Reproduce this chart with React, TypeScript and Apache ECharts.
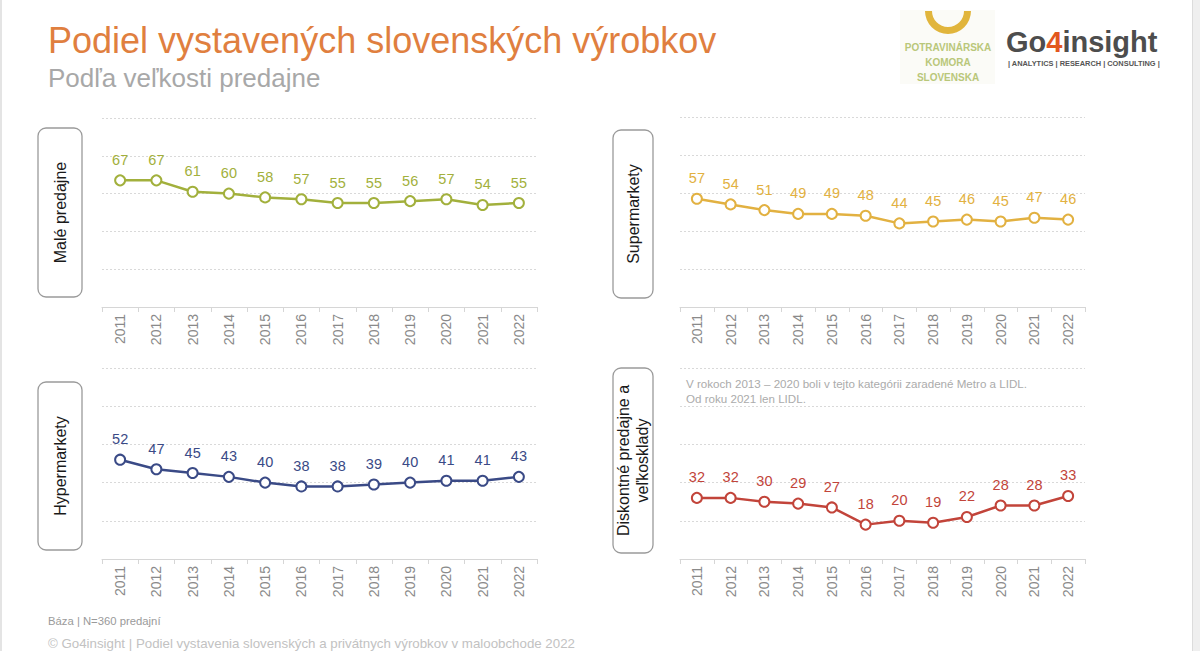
import React, { useEffect, useRef } from "react";
import * as echarts from "echarts";

// Years shown on every panel's category axis
const years = ["2011", "2012", "2013", "2014", "2015", "2016", "2017", "2018", "2019", "2020", "2021", "2022"];

// Share of Slovak products (%) by store size
const malePredajne = [67, 67, 61, 60, 58, 57, 55, 55, 56, 57, 54, 55];
const supermarkety = [57, 54, 51, 49, 49, 48, 44, 45, 46, 45, 47, 46];
const hypermarkety = [52, 47, 45, 43, 40, 38, 38, 39, 40, 41, 41, 43];
const diskontne = [32, 32, 30, 29, 27, 18, 20, 19, 22, 28, 28, 33];

const FONT = "'Liberation Sans', Arial, sans-serif";

type Panel = {
  name: string;
  data: number[];
  color: string;
  grid: { left: number; top: number; width: number; height: number };
  box: { x: number; y: number; w: number; h: number };
  label: string;
};

const panels: Panel[] = [
  {
    name: "Malé predajne",
    data: malePredajne,
    color: "#a2b03c",
    grid: { left: 102, top: 118, width: 435, height: 189 },
    box: { x: 38, y: 128, w: 44, h: 169 },
    label: "Malé predajne",
  },
  {
    name: "Supermarkety",
    data: supermarkety,
    color: "#e2b141",
    grid: { left: 680, top: 117, width: 405, height: 190 },
    box: { x: 613, y: 130, w: 40, h: 168 },
    label: "Supermarkety",
  },
  {
    name: "Hypermarkety",
    data: hypermarkety,
    color: "#3a4a86",
    grid: { left: 102, top: 368, width: 435, height: 191 },
    box: { x: 38, y: 382, w: 44, h: 168 },
    label: "Hypermarkety",
  },
  {
    name: "Diskontné predajne a veľkosklady",
    data: diskontne,
    color: "#c2443a",
    grid: { left: 680, top: 368, width: 405, height: 191 },
    box: { x: 613, y: 368, w: 40, h: 185 },
    label: "Diskontné predajne a\nveľkosklady",
  },
];

export default function App() {
  const ref = useRef<HTMLDivElement>(null);

  useEffect(() => {
    if (!ref.current) return;
    const chart = echarts.init(ref.current, null, { renderer: "svg" });

    const grids = panels.map((p) => ({ ...p.grid }));
    const xAxes = panels.map((_, i) => ({
      type: "category" as const,
      gridIndex: i,
      data: years,
      boundaryGap: true,
      axisLine: { lineStyle: { color: "#d6d6d6", width: 1 } },
      axisTick: { show: true, length: 5, lineStyle: { color: "#d6d6d6" } },
      axisLabel: {
        rotate: 90,
        margin: 7,
        color: "#8a8a8a",
        fontSize: 14,
        fontFamily: FONT,
      },
    }));
    const yAxes = panels.map((_, i) => ({
      type: "value" as const,
      gridIndex: i,
      min: 0,
      max: 100,
      interval: 20,
      axisLine: { show: false },
      axisTick: { show: false },
      axisLabel: { show: false },
      splitLine: { lineStyle: { color: "#d9d9d9", type: [2, 2] as any, width: 1 } },
    }));
    const series = panels.map((p, i) => ({
      type: "line" as const,
      name: p.name,
      xAxisIndex: i,
      yAxisIndex: i,
      data: p.data,
      symbol: "circle",
      symbolSize: 10,
      lineStyle: { color: p.color, width: 2.5 },
      itemStyle: { color: "#ffffff", borderColor: p.color, borderWidth: 2 },
      label: {
        show: true,
        position: "top" as const,
        distance: 7,
        color: p.color,
        fontSize: 14.5,
        fontFamily: FONT,
      },
    }));

    const sideBoxes: any[] = [];
    panels.forEach((p) => {
      sideBoxes.push({
        type: "rect",
        shape: { x: p.box.x, y: p.box.y, width: p.box.w, height: p.box.h, r: 8 },
        style: { fill: "#ffffff", stroke: "#9a9a9a", lineWidth: 1.3 },
      });
      sideBoxes.push({
        type: "text",
        x: p.box.x + p.box.w / 2,
        y: p.box.y + p.box.h / 2,
        rotation: Math.PI / 2,
        style: {
          text: p.label,
          fill: "#1a1a1a",
          fontSize: 16,
          fontFamily: FONT,
          align: "center",
          verticalAlign: "middle",
          lineHeight: 19,
        },
      });
    });

    chart.setOption({
      animation: false,
      backgroundColor: "#ffffff",
      grid: grids,
      xAxis: xAxes,
      yAxis: yAxes,
      series,
      graphic: [
        // page frame edges
        { type: "rect", shape: { x: 0, y: 0, width: 2, height: 651 }, style: { fill: "#e4e4e4" } },
        { type: "rect", shape: { x: 1192, y: 0, width: 8, height: 651 }, style: { fill: "#efefef" } },
        { type: "line", shape: { x1: 1192.5, y1: 0, x2: 1192.5, y2: 651 }, style: { stroke: "#dcdcdc", lineWidth: 1 } },
        // headings
        {
          type: "text",
          x: 48,
          y: 40,
          style: {
            text: "Podiel vystavených slovenských výrobkov",
            fill: "#e07f3f",
            fontSize: 36,
            fontFamily: FONT,
            verticalAlign: "middle",
          },
        },
        {
          type: "text",
          x: 48,
          y: 78,
          style: {
            text: "Podľa veľkosti predajne",
            fill: "#a8a8a8",
            fontSize: 26,
            fontFamily: FONT,
            verticalAlign: "middle",
          },
        },
        // Potravinárska komora logo
        { type: "rect", shape: { x: 900, y: 10, width: 95, height: 74 }, style: { fill: "#fbfbf7" } },
        {
          type: "sector",
          shape: { cx: 948, cy: 11, r0: 16, r: 23, startAngle: 0, endAngle: Math.PI, clockwise: true },
          style: { fill: "#e1b53c" },
        },
        ...["POTRAVINÁRSKA", "KOMORA", "SLOVENSKA"].map((t, i) => ({
          type: "text",
          x: 948,
          y: 47 + i * 15,
          style: {
            text: t,
            fill: "#b9c77a",
            fontSize: 10,
            fontWeight: "bold",
            fontFamily: FONT,
            align: "center",
            verticalAlign: "middle",
          },
        })),
        // Go4insight logo
        {
          type: "text",
          x: 1006,
          y: 42,
          style: {
            text: "{a|Go}{b|4}{a|insight}",
            verticalAlign: "middle",
            rich: {
              a: { fontSize: 29, fontWeight: "bold", fill: "#4d4d4d", fontFamily: FONT },
              b: { fontSize: 29, fontWeight: "bold", fill: "#e2571e", fontFamily: FONT },
            },
          },
        },
        {
          type: "text",
          x: 1008,
          y: 63,
          style: {
            text: "| ANALYTICS | RESEARCH | CONSULTING |",
            fill: "#555555",
            fontSize: 7.4,
            fontWeight: "bold",
            fontFamily: FONT,
            verticalAlign: "middle",
          },
        },
        // category labels
        ...sideBoxes,
        // note for discount stores
        {
          type: "text",
          x: 686,
          y: 376,
          style: {
            text: "V rokoch 2013 – 2020 boli v tejto kategórii zaradené Metro a LIDL.\nOd roku 2021 len LIDL.",
            fill: "#ababab",
            fontSize: 11.6,
            lineHeight: 15,
            fontFamily: FONT,
            verticalAlign: "top",
          },
        },
        // footer
        {
          type: "text",
          x: 48,
          y: 621,
          style: {
            text: "Báza | N=360 predajní",
            fill: "#9a9a9a",
            fontSize: 11.3,
            fontFamily: FONT,
            verticalAlign: "middle",
          },
        },
        {
          type: "text",
          x: 48,
          y: 643,
          style: {
            text: "© Go4insight | Podiel vystavenia slovenských a privátnych výrobkov v maloobchode 2022",
            fill: "#c2c2c2",
            fontSize: 13.3,
            fontFamily: FONT,
            verticalAlign: "middle",
          },
        },
      ],
    });

    return () => chart.dispose();
  }, []);

  return (
    <div
      ref={ref}
      style={{ position: "fixed", left: 0, top: 0, width: 1200, height: 651, background: "#fff" }}
    />
  );
}
